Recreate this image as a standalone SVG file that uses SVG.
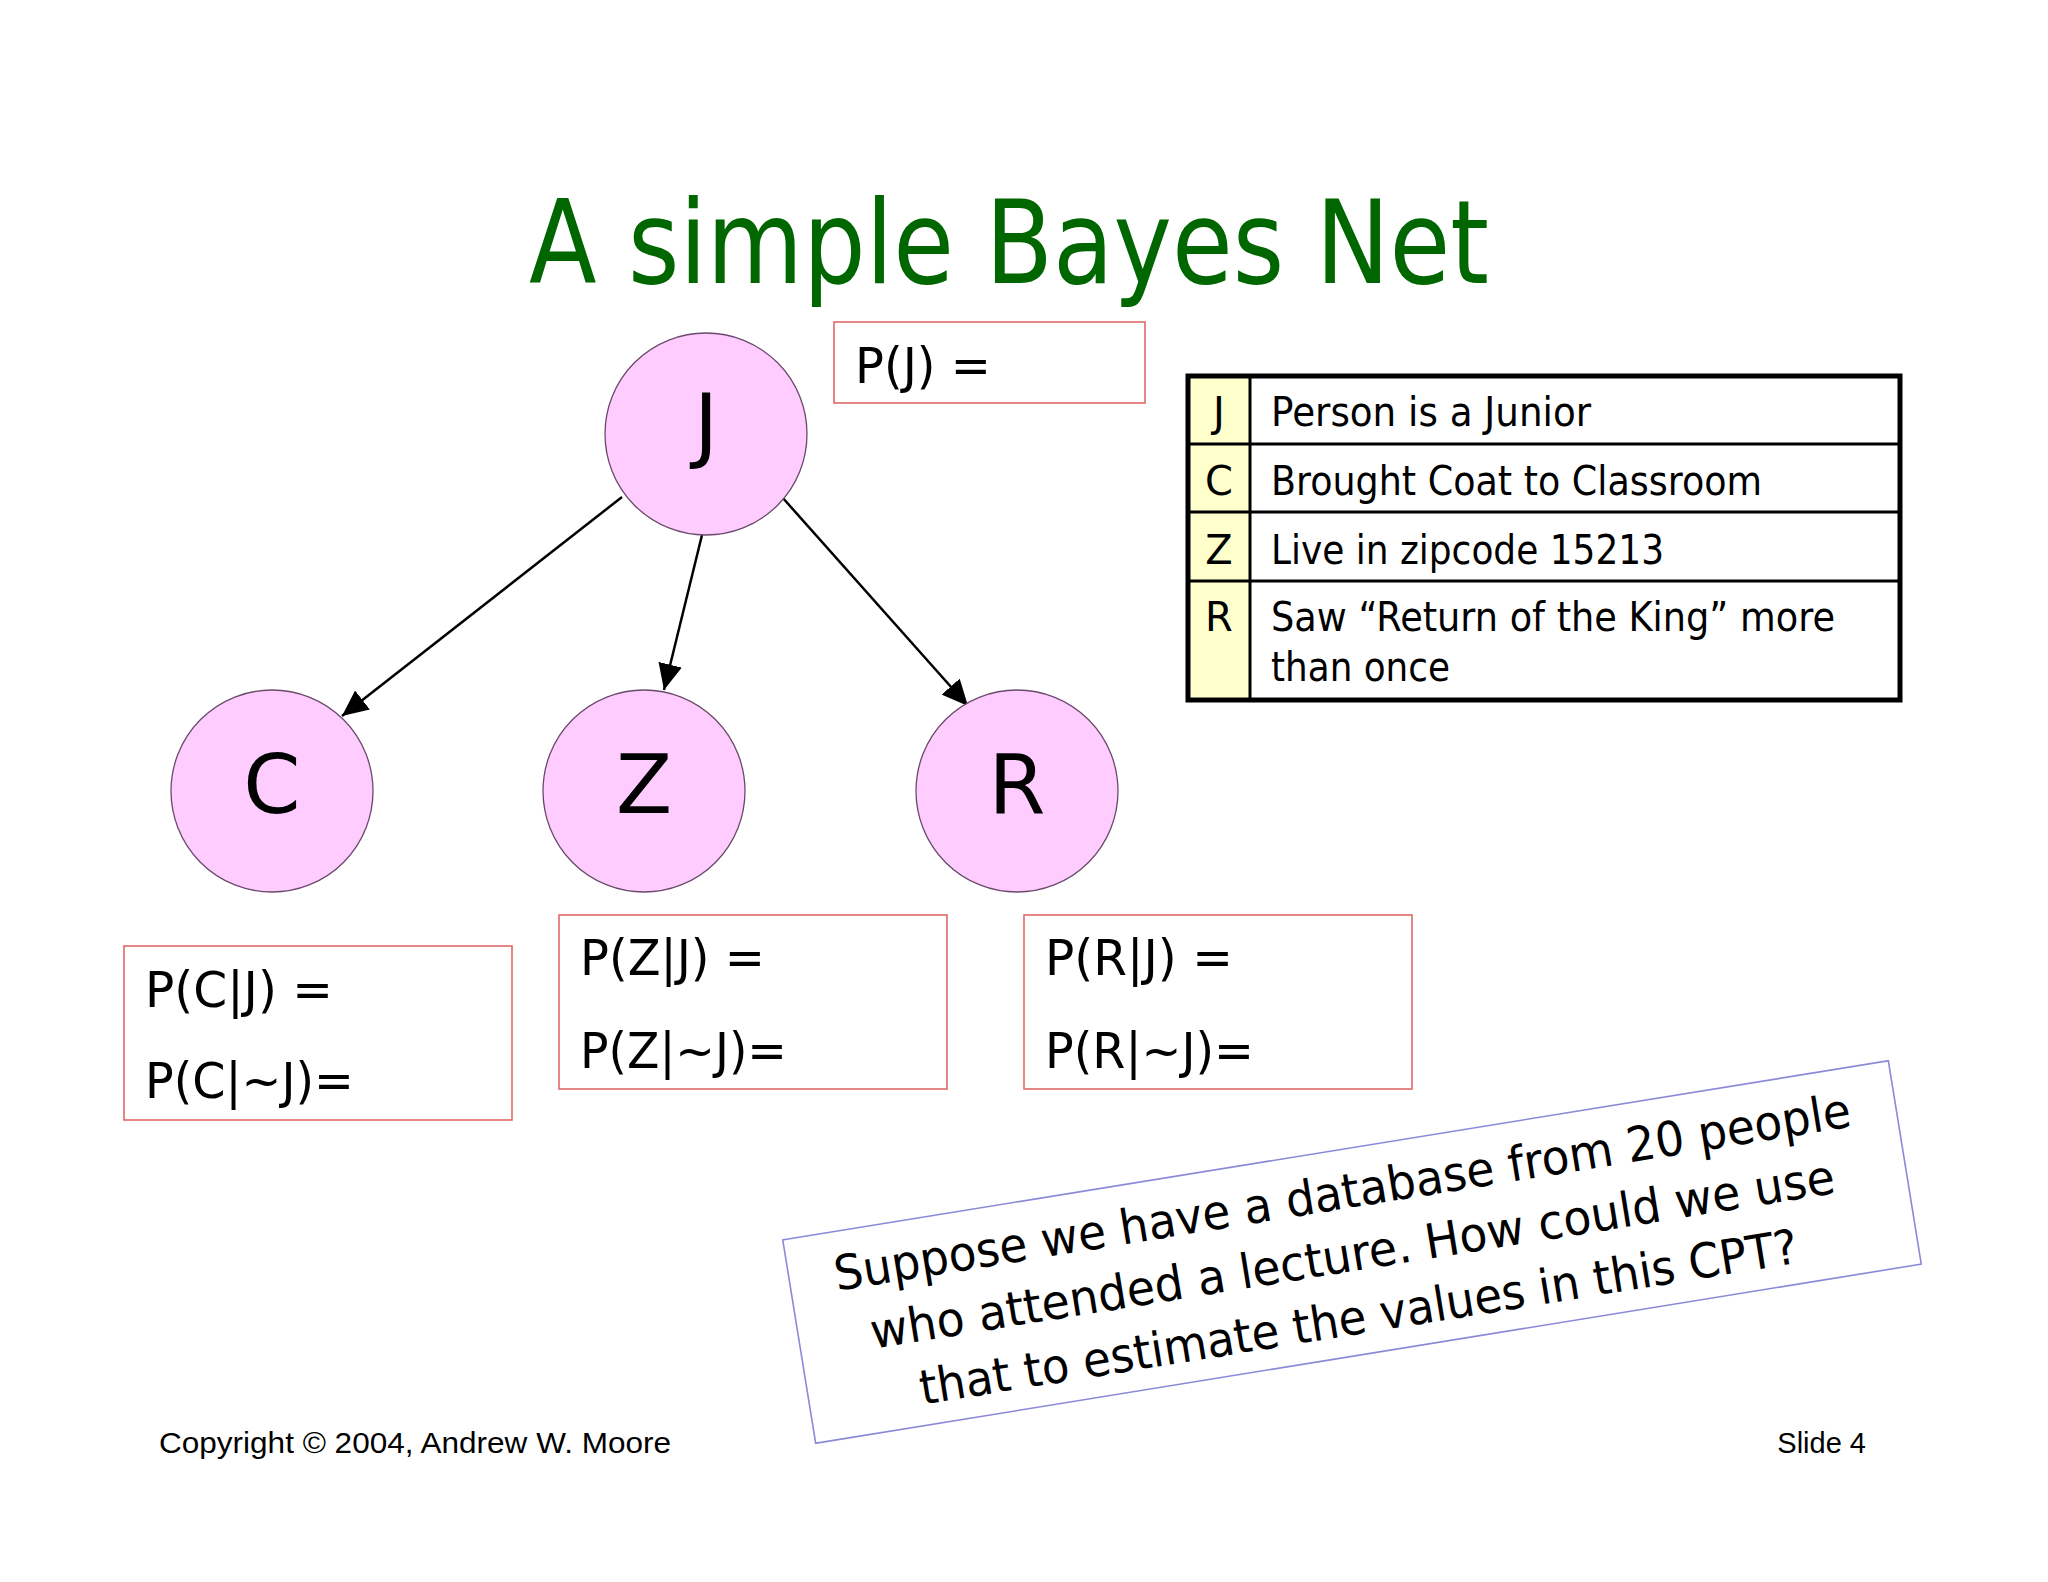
<svg xmlns="http://www.w3.org/2000/svg" width="2048" height="1582" viewBox="0 0 2048 1582">
<style>
  .t { font-family: "DejaVu Sans", Verdana, sans-serif; fill: #000; }
  .title { font-family: "DejaVu Sans", Verdana, sans-serif; fill: #006600; font-size: 116px; }
  .node circle { fill: #FFCCFF; stroke: #6a4a6a; stroke-width: 1.3; }
  .nl { font-family: "DejaVu Sans", Verdana, sans-serif; font-size: 82px; text-anchor: middle; fill: #000; }
  .cpt rect { fill: #FFFFFF; stroke: #E06A6A; stroke-width: 1.6; }
  .cp { font-family: "DejaVu Sans", Verdana, sans-serif; font-size: 50px; fill: #000; }
  .tb { font-family: "DejaVu Sans", Verdana, sans-serif; font-size: 40px; fill: #000; }
  .tbl { font-family: "DejaVu Sans", Verdana, sans-serif; font-size: 40px; fill: #000; text-anchor: middle; }
  .conn line { stroke: #000; stroke-width: 2.5; }
  .note { font-family: "DejaVu Sans", Verdana, sans-serif; font-size: 48px; fill: #000; text-anchor: middle; }
  .foot { font-family: "Liberation Sans", Arial, sans-serif; font-size: 29px; fill: #000; }
</style>
<defs>
  <marker id="arr" markerUnits="userSpaceOnUse" markerWidth="28" markerHeight="24" refX="26" refY="12" orient="auto">
    <path d="M0,0 L26,12 L0,24 Z" fill="#000"/>
  </marker>
</defs>
<rect x="0" y="0" width="2048" height="1582" fill="#FFFFFF"/>

<g id="title">
  <text class="title" x="529" y="283" textLength="960" lengthAdjust="spacingAndGlyphs">A simple Bayes Net</text>
</g>

<g id="connectors" class="conn">
  <line x1="622" y1="497" x2="342" y2="716" marker-end="url(#arr)"/>
  <line x1="702" y1="535" x2="664" y2="690" marker-end="url(#arr)"/>
  <line x1="782" y1="497" x2="968" y2="706" marker-end="url(#arr)"/>
</g>

<g id="node-J" class="node">
  <circle cx="706" cy="434" r="101"/>
  <text class="nl" x="706" y="453">J</text>
</g>
<g id="node-C" class="node">
  <circle cx="272" cy="791" r="101"/>
  <text class="nl" x="272" y="813">C</text>
</g>
<g id="node-Z" class="node">
  <circle cx="644" cy="791" r="101"/>
  <text class="nl" x="644" y="813">Z</text>
</g>
<g id="node-R" class="node">
  <circle cx="1017" cy="791" r="101"/>
  <text class="nl" x="1017" y="813">R</text>
</g>

<g id="cpt-J" class="cpt">
  <rect x="834" y="322" width="311" height="81"/>
  <text class="cp" x="855" y="383" textLength="136" lengthAdjust="spacingAndGlyphs">P(J) =</text>
</g>
<g id="cpt-C" class="cpt">
  <rect x="124" y="946" width="388" height="174"/>
  <text class="cp" x="145" y="1007" textLength="188" lengthAdjust="spacingAndGlyphs">P(C|J) =</text>
  <text class="cp" x="145" y="1098" textLength="209" lengthAdjust="spacingAndGlyphs">P(C|~J)=</text>
</g>
<g id="cpt-Z" class="cpt">
  <rect x="559" y="915" width="388" height="174"/>
  <text class="cp" x="580" y="975" textLength="185" lengthAdjust="spacingAndGlyphs">P(Z|J) =</text>
  <text class="cp" x="580" y="1068" textLength="207" lengthAdjust="spacingAndGlyphs">P(Z|~J)=</text>
</g>
<g id="cpt-R" class="cpt">
  <rect x="1024" y="915" width="388" height="174"/>
  <text class="cp" x="1045" y="975" textLength="188" lengthAdjust="spacingAndGlyphs">P(R|J) =</text>
  <text class="cp" x="1045" y="1068" textLength="209" lengthAdjust="spacingAndGlyphs">P(R|~J)=</text>
</g>

<g id="legend">
  <rect x="1188" y="376" width="712" height="324" fill="#FFFFFF"/>
  <rect x="1188" y="376" width="62" height="324" fill="#FFFFCC"/>
  <line x1="1250" y1="376" x2="1250" y2="700" stroke="#000" stroke-width="3"/>
  <line x1="1188" y1="444" x2="1900" y2="444" stroke="#000" stroke-width="3"/>
  <line x1="1188" y1="512" x2="1900" y2="512" stroke="#000" stroke-width="3"/>
  <line x1="1188" y1="581" x2="1900" y2="581" stroke="#000" stroke-width="3"/>
  <rect x="1188" y="376" width="712" height="324" fill="none" stroke="#000" stroke-width="5"/>
  <text class="tbl" x="1219" y="426">J</text>
  <text class="tbl" x="1219" y="495">C</text>
  <text class="tbl" x="1219" y="564">Z</text>
  <text class="tbl" x="1219" y="631">R</text>
  <text class="tb" x="1271" y="426" textLength="320" lengthAdjust="spacingAndGlyphs">Person is a Junior</text>
  <text class="tb" x="1271" y="495" textLength="491" lengthAdjust="spacingAndGlyphs">Brought Coat to Classroom</text>
  <text class="tb" x="1271" y="564" textLength="393" lengthAdjust="spacingAndGlyphs">Live in zipcode 15213</text>
  <text class="tb" x="1271" y="631" textLength="564" lengthAdjust="spacingAndGlyphs">Saw “Return of the King” more</text>
  <text class="tb" x="1271" y="681" textLength="179" lengthAdjust="spacingAndGlyphs">than once</text>
</g>

<g id="note" transform="translate(1352 1252) rotate(-9.2)">
  <rect x="-560" y="-103" width="1120" height="206" fill="#FFFFFF" stroke="#8A8AD8" stroke-width="1.6"/>
  <text class="note" x="0" y="-44" textLength="1029" lengthAdjust="spacingAndGlyphs">Suppose we have a database from 20 people</text>
  <text class="note" x="0" y="19" textLength="976" lengthAdjust="spacingAndGlyphs">who attended a lecture. How could we use</text>
  <text class="note" x="-4" y="82" textLength="889" lengthAdjust="spacingAndGlyphs">that to estimate the values in this CPT?</text>
</g>

<g id="footer">
  <text class="foot" x="159" y="1453" textLength="512" lengthAdjust="spacingAndGlyphs">Copyright © 2004, Andrew W. Moore</text>
  <text class="foot" x="1866" y="1453" text-anchor="end">Slide 4</text>
</g>
</svg>
